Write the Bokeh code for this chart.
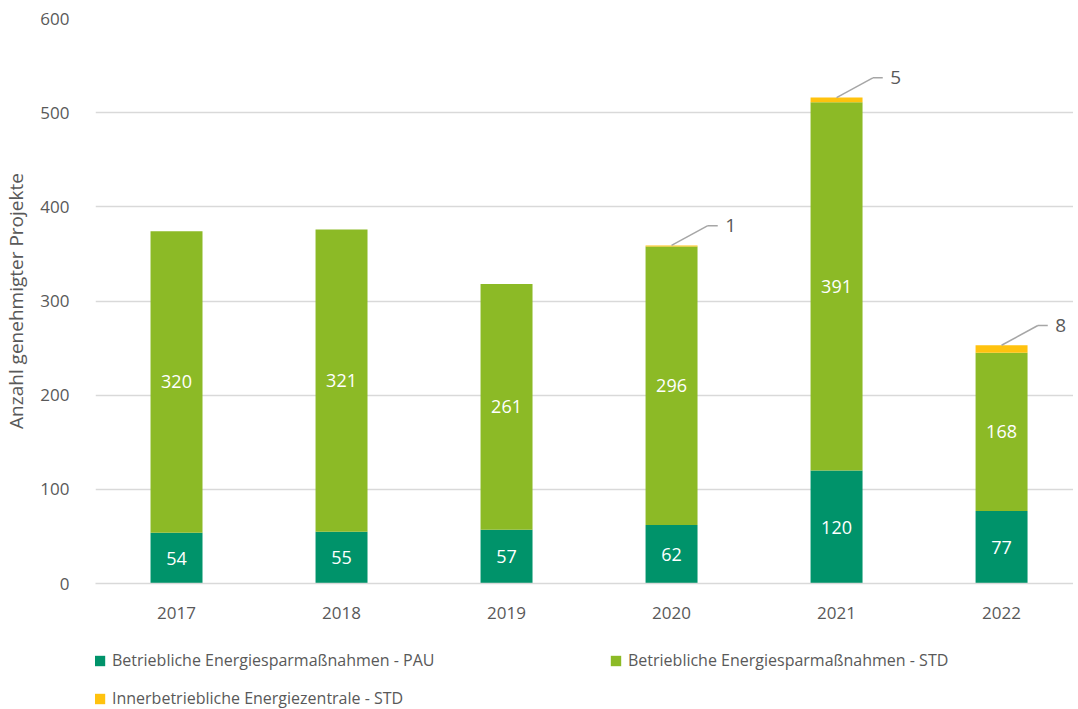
from bokeh.plotting import figure
from bokeh.layouts import column
from bokeh.models import ColumnDataSource, Legend, LegendItem, Range1d, FixedTicker
from bokeh.core.properties import value
from bokeh.embed import file_html
from bokeh.resources import INLINE

years = ["2017", "2018", "2019", "2020", "2021", "2022"]
pau = [54, 55, 57, 62, 120, 77]
std = [320, 321, 261, 296, 391, 168]
zentrale = [0, 0, 0, 1, 5, 8]
series_names = [
    "Betriebliche Energiesparmaßnahmen - PAU",
    "Betriebliche Energiesparmaßnahmen - STD",
    "Innerbetriebliche Energiezentrale - STD",
]
colors = ["#00936A", "#8CBA26", "#FFC20E"]

FONT = "Open Sans"
GREY = "#595959"

xs = list(range(len(years)))
source = ColumnDataSource(dict(x=xs, pau=pau, std=std, zentrale=zentrale))

p = figure(frame_width=978, frame_height=565, output_backend="svg", toolbar_location=None,
           x_range=Range1d(-0.491, 5.436), y_range=Range1d(0, 600),
           min_border_left=84, min_border_top=18, min_border_right=0, min_border_bottom=48)
p.outline_line_color = None
p.background_fill_color = "white"
p.border_fill_color = "white"

renderers = p.vbar_stack(["pau", "std", "zentrale"], x="x", width=0.315, source=source,
                         fill_color=colors, line_color=colors, line_width=0)

# inside labels
lab_x, lab_y, lab_t = [], [], []
for i in xs:
    lab_x.append(i); lab_y.append(pau[i] / 2); lab_t.append(str(pau[i]))
    lab_x.append(i); lab_y.append(pau[i] + std[i] / 2); lab_t.append(str(std[i]))
p.text(x=lab_x, y=lab_y, text=lab_t, text_color="white", text_font=value(FONT),
       text_font_size="18px", text_align="center", text_baseline="middle")

# callouts for small series
cx0, cy0, cx1, cy1, cx2 = [], [], [], [], []
tx, ty, tt = [], [], []
for i in xs:
    if zentrale[i] > 0:
        top = pau[i] + std[i] + zentrale[i]
        cx0.append(i); cy0.append(top)
        cx1.append(i + 0.22); cy1.append(top + 21)
        cx2.append(i + 0.28)
        tx.append(i + 0.325); ty.append(top + 21); tt.append(str(zentrale[i]))
p.segment(x0=cx0, y0=cy0, x1=cx1, y1=cy1, line_color="#A6A6A6", line_width=1.5)
p.segment(x0=cx1, y0=cy1, x1=cx2, y1=cy1, line_color="#A6A6A6", line_width=1.5)
p.text(x=tx, y=ty, text=tt, text_color=GREY, text_font=value(FONT),
       text_font_size="19px", text_align="left", text_baseline="middle")

# axes
p.xaxis.ticker = FixedTicker(ticks=xs)
p.xaxis.major_label_overrides = {i: y for i, y in enumerate(years)}
p.xaxis.major_tick_line_color = None
p.xaxis.minor_tick_line_color = None
p.xaxis.axis_line_color = "#D9D9D9"
p.xaxis.axis_line_width = 1.5
p.xaxis.major_label_text_color = GREY
p.xaxis.major_label_text_font = FONT
p.xaxis.major_label_text_font_size = "17px"
p.xaxis.major_label_standoff = 17
p.xgrid.grid_line_color = None

p.yaxis.ticker = FixedTicker(ticks=[0, 100, 200, 300, 400, 500, 600])
p.yaxis.major_tick_line_color = None
p.yaxis.minor_tick_line_color = None
p.yaxis.axis_line_color = None
p.yaxis.major_label_text_color = GREY
p.yaxis.major_label_text_font = FONT
p.yaxis.major_label_text_font_size = "17px"
p.yaxis.major_label_standoff = 20
p.yaxis.axis_label = "Anzahl genehmigter Projekte"
p.yaxis.axis_label_text_color = GREY
p.yaxis.axis_label_text_font = FONT
p.yaxis.axis_label_text_font_size = "19px"
p.yaxis.axis_label_text_font_style = "normal"
p.yaxis.axis_label_standoff = 8
p.ygrid.grid_line_color = "#D9D9D9"
p.ygrid.grid_line_width = 1.5

# legend strip below the chart; swatches come from the same stacked series (hidden there)
lg = figure(width=1062, height=78, output_backend="svg", toolbar_location=None,
            x_axis_type=None, y_axis_type=None, min_border=0,
            x_range=Range1d(0, 1), y_range=Range1d(0, 1))
lg.outline_line_color = None
lg.grid.grid_line_color = None
swatches = lg.vbar_stack(["pau", "std", "zentrale"], x="x", width=0.315, source=source,
                         fill_color=colors, line_color=colors, line_width=0, visible=False)
legend = Legend(items=[LegendItem(label=n, renderers=[r]) for n, r in zip(series_names, swatches)],
                orientation="horizontal", ncols=2, location=(-2, 0),
                glyph_width=13, glyph_height=13, label_standoff=6, label_width=481,
                label_height=20, spacing=16, padding=0, margin=0,
                border_line_color=None, background_fill_alpha=0,
                label_text_color=GREY, label_text_font=FONT, label_text_font_size="16px")
lg.add_layout(legend, "center")

layout = column(p, lg, spacing=0)
open("out.html", "w").write(file_html(layout, INLINE))
